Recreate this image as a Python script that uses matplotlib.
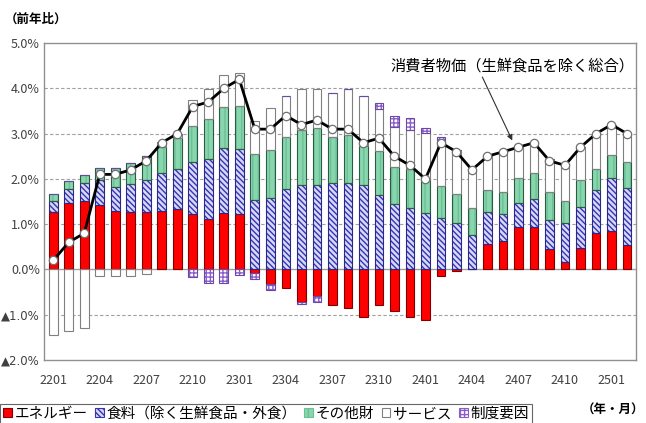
import numpy as np
import matplotlib
matplotlib.use("Agg")
import matplotlib.pyplot as plt
from matplotlib.patches import Patch

plt.rcParams['font.family'] = ['Noto Sans CJK JP', 'DejaVu Sans']
plt.rcParams['hatch.linewidth'] = 1.0

# months 2201 .. 2502
months = ["2201", "2202", "2203", "2204", "2205", "2206", "2207", "2208", "2209", "2210",
          "2211", "2212", "2301", "2302", "2303", "2304", "2305", "2306", "2307", "2308",
          "2309", "2310", "2311", "2312", "2401", "2402", "2403", "2404", "2405", "2406",
          "2407", "2408", "2409", "2410", "2411", "2412", "2501", "2502"]

energy = [1.27, 1.46, 1.52, 1.43, 1.30, 1.27, 1.26, 1.30, 1.33, 1.23,
          1.11, 1.25, 1.23, -0.07, -0.33, -0.42, -0.73, -0.59, -0.79, -0.86,
          -1.04, -0.79, -0.91, -1.05, -1.12, -0.15, -0.04, 0.00, 0.56, 0.62,
          0.94, 0.94, 0.46, 0.17, 0.48, 0.81, 0.85, 0.55]
food = [0.24, 0.32, 0.40, 0.55, 0.52, 0.62, 0.71, 0.82, 0.88, 1.14,
        1.34, 1.44, 1.44, 1.53, 1.58, 1.78, 1.86, 1.87, 1.90, 1.90,
        1.86, 1.64, 1.44, 1.35, 1.24, 1.13, 1.02, 0.76, 0.70, 0.60,
        0.52, 0.61, 0.63, 0.85, 0.91, 0.94, 1.16, 1.26]
other_goods = [0.15, 0.17, 0.17, 0.27, 0.43, 0.46, 0.53, 0.59, 0.69, 0.81,
               0.88, 0.89, 0.95, 1.01, 1.07, 1.15, 1.21, 1.25, 1.02, 1.06,
               0.87, 0.98, 0.82, 0.87, 0.74, 0.72, 0.64, 0.60, 0.49, 0.49,
               0.55, 0.57, 0.63, 0.50, 0.58, 0.47, 0.51, 0.56]
services = [-1.44, -1.35, -1.29, -0.15, -0.15, -0.15, -0.10, 0.11, 0.10, 0.57,
            0.66, 0.71, 0.71, 0.75, 0.92, 0.90, 0.91, 0.87, 0.97, 1.02,
            1.11, 0.92, 0.88, 0.86, 1.04, 0.99, 0.98, 0.84, 0.78, 0.89,
            0.71, 0.70, 0.71, 0.79, 0.74, 0.78, 0.67, 0.62]
institutional = [0, 0, 0, 0, 0, 0, 0, 0, 0, -0.16,
                 -0.29, -0.29, -0.13, -0.13, -0.13, 0, -0.04, -0.12, 0, 0,
                 0, 0.14, 0.26, 0.27, 0.10, 0.09, 0, 0, 0, 0,
                 0, 0, 0, 0, 0, 0, 0, 0]
core_cpi = [0.2, 0.6, 0.8, 2.1, 2.1, 2.2, 2.4, 2.8, 3.0, 3.6,
            3.7, 4.0, 4.2, 3.1, 3.1, 3.4, 3.2, 3.3, 3.1, 3.1,
            2.8, 2.9, 2.5, 2.3, 2.0, 2.8, 2.6, 2.2, 2.5, 2.6,
            2.7, 2.8, 2.4, 2.3, 2.7, 3.0, 3.2, 3.0]

series = [
    ("エネルギー", energy, dict(fc="#ff0000", hatch=None, hc="#ff0000", ec="#800000")),
    ("食料（除く生鮮食品・外食）", food, dict(fc="#d8d8f4", hatch="\\\\\\\\\\\\", hc="#3434b4", ec="#28288a")),
    ("その他財", other_goods, dict(fc="#88d6ae", hatch="|||", hc="#6cc096", ec="#2d5a44")),
    ("サービス", services, dict(fc="white", hatch=None, hc="white", ec="#808080")),
    ("制度要因", institutional, dict(fc="white", hatch="++++", hc="#8a60c8", ec="#6a48a8")),
]

fig = plt.figure(figsize=(6.46, 4.23), dpi=100)
ax = fig.add_axes([0.068, 0.149, 0.917, 0.749])

x = np.arange(len(months))
w = 0.56
pos_base = np.zeros(len(months))
neg_base = np.zeros(len(months))
for name, vals, st in series:
    v = np.array(vals, dtype=float)
    base = np.where(v >= 0, pos_base, neg_base)
    # fill + hatch
    ax.bar(x, v, w, bottom=base, color=st["fc"], hatch=st["hatch"],
           edgecolor=st["hc"], linewidth=0, zorder=2)
    # outline
    ax.bar(x, v, w, bottom=base, fill=False, edgecolor=st["ec"],
           linewidth=0.8, zorder=3)
    pos_base = pos_base + np.where(v > 0, v, 0)
    neg_base = neg_base + np.where(v < 0, v, 0)

ax.plot(x, core_cpi, color="black", lw=2, marker="o", ms=6,
        mfc="white", mec="#707070", mew=0.9, zorder=5)

ax.set_xlim(-0.6, len(months) - 0.4)
ax.set_ylim(-2, 5)
yt = np.arange(-2, 6)
ax.set_yticks(yt)
ax.set_yticklabels([("▲%.1f%%" % -t) if t < 0 else ("%.1f%%" % t) for t in yt],
                   fontsize=9, color="#404040")
for lab in ax.get_yticklabels():
    if lab.get_text().startswith("▲"):
        lab.set_family(["DejaVu Sans"])
        lab.set_fontsize(8.5)
ax.set_xticks(x[::3])
ax.set_xticklabels(months[::3], fontsize=9, color="#404040")
ax.tick_params(axis="y", length=0, pad=3)
ax.tick_params(axis="x", length=0, pad=10)
for t in [-1, 1, 2, 3, 4]:
    ax.axhline(t, color="#a0a0a0", lw=0.8, ls=(0, (3, 2)), zorder=1)
ax.axhline(0, color="#a0a0a0", lw=1.0, zorder=1)
for s in ax.spines.values():
    s.set_color("#909090")
    s.set_linewidth(1.0)

ax.annotate("消費者物価（生鮮食品を除く総合）", xy=(29.6, 2.85), xytext=(37.5, 4.5),
            fontsize=11, ha="right", va="center",
            arrowprops=dict(arrowstyle="-|>", color="#303030", lw=0.8,
                            mutation_scale=8, shrinkA=0, shrinkB=0,
                            relpos=(0.37, 0.0)))

fig.text(0.008, 0.955, "（前年比）", fontsize=9, fontweight="bold", ha="left", va="center")
fig.text(0.998, 0.03, "（年・月）", fontsize=9, fontweight="bold", ha="right", va="center")

handles = []
for name, vals, st in series:
    edge = st["hc"] if st["hatch"] else st["ec"]
    handles.append(Patch(facecolor=st["fc"], hatch=st["hatch"], edgecolor=edge,
                         linewidth=0.8, label=name))
leg = fig.legend(handles=handles, loc="upper left", bbox_to_anchor=(0.0, 0.045),
                 ncol=5, fontsize=10.5, frameon=True, fancybox=False,
                 handlelength=0.6, handleheight=0.6, handletextpad=0.2,
                 columnspacing=0.5, borderpad=0.2, borderaxespad=0)
leg.get_frame().set_edgecolor("#404040")
leg.get_frame().set_linewidth(0.8)

fig.savefig("out.png", dpi=100)
